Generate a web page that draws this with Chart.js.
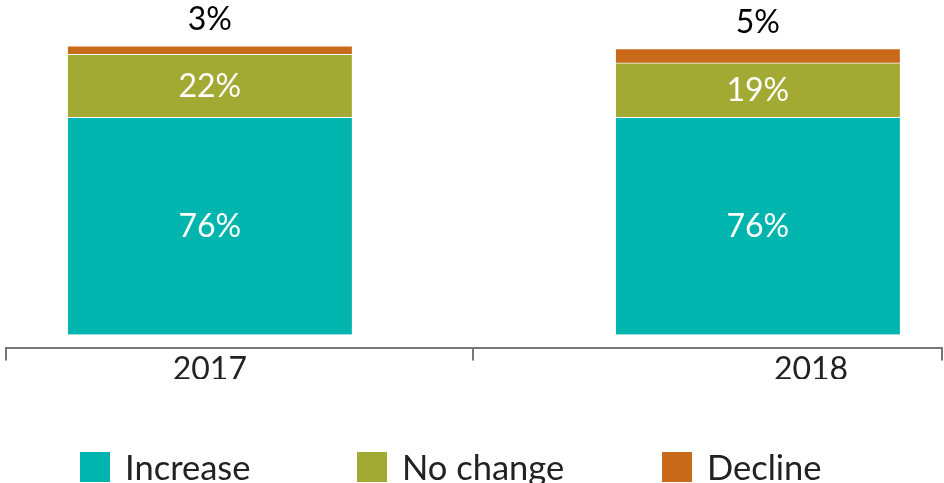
<!DOCTYPE html>
<html><head><meta charset="utf-8">
<script src="https://cdn.jsdelivr.net/npm/chart.js@4.4.1/dist/chart.umd.min.js"></script>
<style>
html,body{margin:0;padding:0;background:#fff;}
#wrap{position:relative;width:944px;height:483px;overflow:hidden;}
#legend{position:absolute;left:0;top:452px;width:944px;height:31px;font-family:Lato,sans-serif;font-size:34.5px;color:#222;line-height:30px;white-space:nowrap;}
.item{position:absolute;top:0;display:flex;align-items:center;}
.sw{width:30px;height:30px;margin-right:15px;flex:none;}
</style></head><body>
<div id="wrap"><canvas id="c" width="944" height="483"></canvas><div id="legend"></div></div>
<script>
// ---- data ----
const years = [2017, 2018];
const yearLabels = ['2017', '2018'];
const seriesNames = ['Increase', 'No change', 'Decline'];
const increase = [76, 76];
const noChange = [22, 19];
const decline = [3, 5];
const colors = ['#00B5AE', '#A3AA33', '#C96A1A'];

// ---- layout config ----
const axisMin = 2016.628, axisMax = 2018.336, axisMid = 2017.48;  // axis span in year units
const labelPos = [2017, 2018.097];                                 // where year labels sit
const legendLeft = [80, 357, 662];                                  // legend item x positions

const toPoints = arr => years.map((yr, i) => ({x: yr, y: arr[i]}));
const datasets = [increase, noChange, decline].map((arr, k) => ({
  label: seriesNames[k],
  data: toPoints(arr),
  backgroundColor: colors[k],
  borderColor: '#ffffff',
  borderWidth: {top: 1, right: 0, bottom: 0, left: 0},
  borderSkipped: false,
  barThickness: 284,
  labelOutside: k === 2
}));

const valueLabels = {
  id: 'valueLabels',
  afterDatasetsDraw(chart) {
    const ctx = chart.ctx;
    ctx.save();
    ctx.font = '32px Lato';
    ctx.textAlign = 'center';
    ctx.textBaseline = 'middle';
    chart.data.datasets.forEach((ds, di) => {
      const meta = chart.getDatasetMeta(di);
      meta.data.forEach((bar, i) => {
        const txt = ds.data[i].y + '%';
        if (ds.labelOutside) {
          ctx.fillStyle = '#000';
          ctx.fillText(txt, bar.x, bar.y - 26);
        } else {
          ctx.fillStyle = '#fff';
          ctx.fillText(txt, bar.x, (bar.y + bar.base) / 2 + 1);
        }
      });
    });
    ctx.restore();
  }
};

const chart = new Chart(document.getElementById('c'), {
  type: 'bar',
  data: {datasets},
  options: {
    responsive: false,
    animation: false,
    layout: {padding: {top: 20, left: 6, right: 2, bottom: 104}},
    plugins: {legend: {display: false}, tooltip: {enabled: false}},
    scales: {
      x: {
        type: 'linear', stacked: true, min: axisMin, max: axisMax, offset: false,
        afterBuildTicks(scale) {
          scale.ticks = [axisMin, labelPos[0], axisMid, labelPos[1], axisMax].map(v => ({value: v}));
        },
        ticks: {
          autoSkip: false, maxRotation: 0, padding: -10,
          font: {family: 'Lato', size: 32}, color: '#222',
          callback(v) { const k = labelPos.indexOf(v); return k >= 0 ? yearLabels[k] : ''; }
        },
        grid: {
          offset: false, drawOnChartArea: false, drawTicks: true, tickLength: 13, lineWidth: 2,
          color: c => (c.tick && labelPos.includes(c.tick.value)) ? 'rgba(0,0,0,0)' : '#777'
        },
        border: {display: true, color: '#777', width: 2}
      },
      y: {display: false, stacked: true, min: -4.57, max: 110}
    }
  },
  plugins: [valueLabels]
});

const legend = document.getElementById('legend');
chart.data.datasets.forEach((ds, k) => {
  const it = document.createElement('div'); it.className = 'item'; it.style.left = legendLeft[k] + 'px';
  const sw = document.createElement('span'); sw.className = 'sw'; sw.style.background = ds.backgroundColor;
  const tx = document.createElement('span'); tx.textContent = ds.label;
  it.appendChild(sw); it.appendChild(tx); legend.appendChild(it);
});
</script>
</body></html>
